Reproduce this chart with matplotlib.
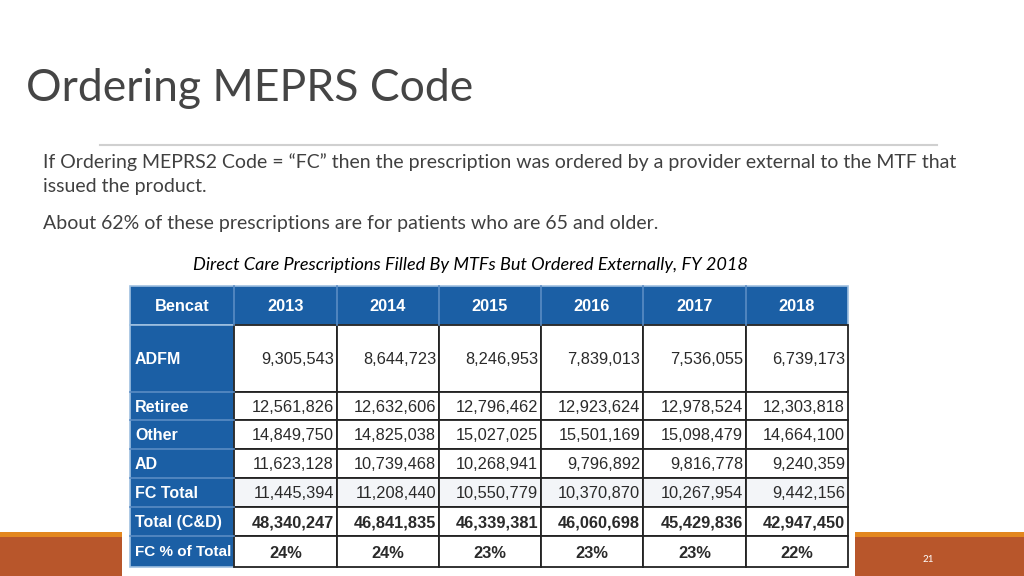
import matplotlib
matplotlib.use("Agg")
import matplotlib.pyplot as plt
from matplotlib.patches import Rectangle

# ---- slide text ----
TITLE = "Ordering MEPRS Code"
BODY = ["If Ordering MEPRS2 Code = \u201cFC\u201d then the prescription was ordered by a provider external to the MTF that",
        "issued the product.",
        "About 62% of these prescriptions are for patients who are 65 and older."]
CAPTION = "Direct Care Prescriptions Filled By MTFs But Ordered Externally, FY 2018"
PAGE = "21"

# ---- table data ----
years = ["2013", "2014", "2015", "2016", "2017", "2018"]
bencat = ["ADFM", "Retiree", "Other", "AD", "FC Total", "Total (C&D)", "FC % of Total"]
adfm = [9305543, 8644723, 8246953, 7839013, 7536055, 6739173]
retiree = [12561826, 12632606, 12796462, 12923624, 12978524, 12303818]
other = [14849750, 14825038, 15027025, 15501169, 15098479, 14664100]
ad = [11623128, 10739468, 10268941, 9796892, 9816778, 9240359]
fc_total = [11445394, 11208440, 10550779, 10370870, 10267954, 9442156]
total_cd = [48340247, 46841835, 46339381, 46060698, 45429836, 42947450]
fc_pct = [24, 24, 23, 23, 23, 22]
rows = [adfm, retiree, other, ad, fc_total, total_cd]

BLUE = "#1b5fa5"
BLUE_LINE = "#5a8cc4"
ORANGE = "#e3871f"
RUST = "#b8562b"

fig = plt.figure(figsize=(10.24, 5.76), dpi=100)
ax = fig.add_axes([0, 0, 1, 1])
ax.set_xlim(0, 1024); ax.set_ylim(576, 0); ax.axis("off")

# footer bar
ax.add_patch(Rectangle((0, 532), 1024, 44, color=RUST, lw=0))
ax.add_patch(Rectangle((0, 532), 1024, 5, color=ORANGE, lw=0))
ax.add_patch(Rectangle((122, 278), 733, 298, color="white", lw=0))   # white pad behind table
ax.text(928, 559, PAGE, color="white", fontsize=7, ha="center", va="center", family="Lato")

# header text
ax.text(26, 101, TITLE, fontsize=32, color="#454545", family="Lato", va="baseline")
ax.plot([100, 937], [145, 145], color="#d0d0d0", lw=1.5)
for txt, y in zip(BODY, [168, 192, 229]):
    ax.text(43, y, txt, fontsize=14.0, color="#404040", family="Lato", va="baseline")
ax.text(470, 270, CAPTION, fontsize=13.1, style="italic", color="black", family="Lato",
        ha="center", va="baseline")

# table geometry
col_x = [130, 234, 337, 439, 541, 643, 746, 848]
row_y = [286, 325, 392, 420, 449, 478, 507, 536, 567]
tf = "Liberation Sans"

# header row and label column
ax.add_patch(Rectangle((col_x[0], row_y[0]), col_x[-1] - col_x[0], row_y[1] - row_y[0],
                       facecolor=BLUE, edgecolor="#9fc0e0", lw=1.2))
ax.add_patch(Rectangle((col_x[0], row_y[1]), col_x[1] - col_x[0], row_y[-1] - row_y[1],
                       facecolor=BLUE, edgecolor="#9fc0e0", lw=1.2))
for x in col_x[1:-1]:
    ax.plot([x, x], [row_y[0], row_y[1]], color=BLUE_LINE, lw=1.2)
for y in row_y[2:-1]:
    ax.plot([col_x[0], col_x[1]], [y, y], color=BLUE_LINE, lw=1.2)

ax.text((col_x[0] + col_x[1]) / 2, (row_y[0] + row_y[1]) / 2 + 1, "Bencat", color="white",
        fontsize=11.8, weight="bold", family=tf, ha="center", va="center")
for j, yr in enumerate(years):
    ax.text((col_x[j + 1] + col_x[j + 2]) / 2, (row_y[0] + row_y[1]) / 2 + 1, yr, color="white",
            fontsize=11.8, weight="bold", family=tf, ha="center", va="center")
for i, lab in enumerate(bencat):
    ax.text(col_x[0] + 5, (row_y[i + 1] + row_y[i + 2]) / 2 + 1, lab, color="white",
            fontsize=11 if i == len(bencat) - 1 else 11.5, weight="bold", family=tf,
            ha="left", va="center")

# data cells
for i in range(len(bencat)):
    y0, y1 = row_y[i + 1], row_y[i + 2]
    for j in range(len(years)):
        x0, x1 = col_x[j + 1], col_x[j + 2]
        fc = "#f3f5f8" if bencat[i] == "FC Total" else "white"
        ax.add_patch(Rectangle((x0, y0), x1 - x0, y1 - y0, facecolor=fc, edgecolor="#222222", lw=1.3))
        bold = "bold" if bencat[i] in ("Total (C&D)", "FC % of Total") else "normal"
        if i < len(rows):
            ax.text(x1 - 3, (y0 + y1) / 2 + 1, f"{rows[i][j]:,}", color="#2a2a2a", fontsize=11.8,
                    weight=bold, family=tf, ha="right", va="center")
        else:
            ax.text((x0 + x1) / 2, (y0 + y1) / 2 + 2, f"{fc_pct[j]}%", color="#2a2a2a", fontsize=11.8,
                    weight=bold, family=tf, ha="center", va="center")

fig.savefig("out.png", dpi=100)
